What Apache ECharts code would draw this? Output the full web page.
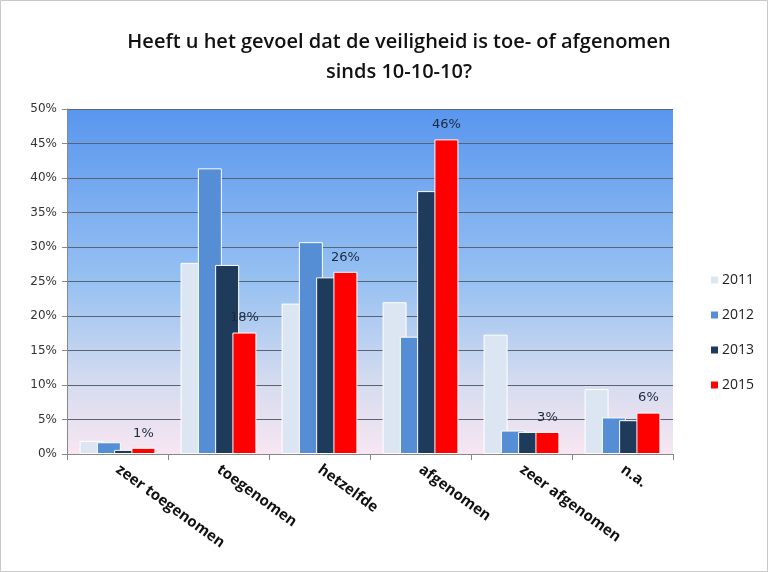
<!DOCTYPE html>
<html>
<head>
<meta charset="utf-8">
<script src="https://cdn.jsdelivr.net/npm/echarts@6/dist/echarts.min.js"></script>
<style>
  html, body { margin: 0; padding: 0; background: #fff; }
  #echart { width: 768px; height: 572px; }
</style>
</head>
<body>
<div id="echart"></div>
<script>
// categorieen en waarden (procenten)
var categories = ['zeer toegenomen', 'toegenomen', 'hetzelfde', 'afgenomen', 'zeer afgenomen', 'n.a.'];
var years = ['2011', '2012', '2013', '2015'];
var data2011 = [1.9, 27.7, 21.8, 22.0, 17.3, 9.4];
var data2012 = [1.7, 41.4, 30.7, 17.0, 3.4, 5.3];
var data2013 = [0.6, 27.4, 25.6, 38.1, 3.2, 4.9];
var data2015 = [0.9, 17.6, 26.4, 45.6, 3.2, 6.0];
var yearColors = ['#dce6f2', '#558ed5', '#1f3b5c', '#ff0000'];

var myChart = echarts.init(document.getElementById('echart'));

function makeSeries(name, values, color, withLabel) {
    return {
        name: name,
        type: 'bar',
        data: values,
        barWidth: 24,
        barGap: '-28%',
        itemStyle: {
            color: color,
            borderColor: '#ffffff',
            borderWidth: 1
        },
        label: {
            show: withLabel,
            position: 'top',
            distance: 8,
            color: '#1a2a40',
            fontSize: 13,
            fontFamily: 'DejaVu Sans',
            formatter: function (p) {
                return Math.round(p.value) + '%';
            }
        }
    };
}

var option = {
    backgroundColor: '#ffffff',
    animation: false,
    title: {
        text: 'Heeft u het gevoel dat de veiligheid is toe- of afgenomen\nsinds 10-10-10?',
        left: 394,
        textAlign: 'center',
        top: 22,
        textStyle: {
            color: '#111',
            fontSize: 20,
            fontWeight: 600,
            fontFamily: 'Open Sans',
            lineHeight: 30
        }
    },
    legend: {
        orient: 'vertical',
        left: 704,
        top: 268,
        itemWidth: 9,
        itemHeight: 9,
        itemGap: 21,
        icon: 'rect',
        data: years,
        textStyle: {
            color: '#222',
            fontSize: 14,
            fontFamily: 'Open Sans',
            padding: [0, 0, 0, -2]
        }
    },
    grid: {
        left: 67,
        right: 95,
        top: 109,
        bottom: 118,
        show: true,
        borderWidth: 0,
        backgroundColor: new echarts.graphic.LinearGradient(0, 0, 0, 1, [
            { offset: 0, color: '#5996ee' },
            { offset: 0.5, color: '#97c1f2' },
            { offset: 0.8, color: '#d6dcef' },
            { offset: 1, color: '#f8e6f2' }
        ])
    },
    xAxis: {
        type: 'category',
        data: categories,
        axisLine: { lineStyle: { color: '#888', width: 1 } },
        axisTick: { show: true, length: 6, lineStyle: { color: '#888' } },
        axisLabel: {
            rotate: -36,
            margin: 14,
            color: '#111',
            fontSize: 15,
            fontWeight: 'bold',
            fontFamily: 'Open Sans',
            interval: 0
        }
    },
    yAxis: {
        type: 'value',
        min: 0,
        max: 50,
        interval: 5,
        axisLine: { show: true, lineStyle: { color: '#888' } },
        axisTick: { show: true, length: 5, lineStyle: { color: '#888' } },
        axisLabel: {
            formatter: '{value}%',
            color: '#333',
            fontSize: 12,
            fontFamily: 'DejaVu Sans',
            margin: 10
        },
        splitLine: { lineStyle: { color: '#5a6372', width: 1 } }
    },
    graphic: [{
        type: 'rect',
        shape: { x: 0.5, y: 0.5, width: 767, height: 571 },
        style: { fill: 'none', stroke: '#c8c8c8', lineWidth: 1 },
        silent: true
    }],
    series: [
        makeSeries(years[0], data2011, yearColors[0], false),
        makeSeries(years[1], data2012, yearColors[1], false),
        makeSeries(years[2], data2013, yearColors[2], false),
        makeSeries(years[3], data2015, yearColors[3], true)
    ]
};
myChart.setOption(option);
</script>
</body>
</html>
